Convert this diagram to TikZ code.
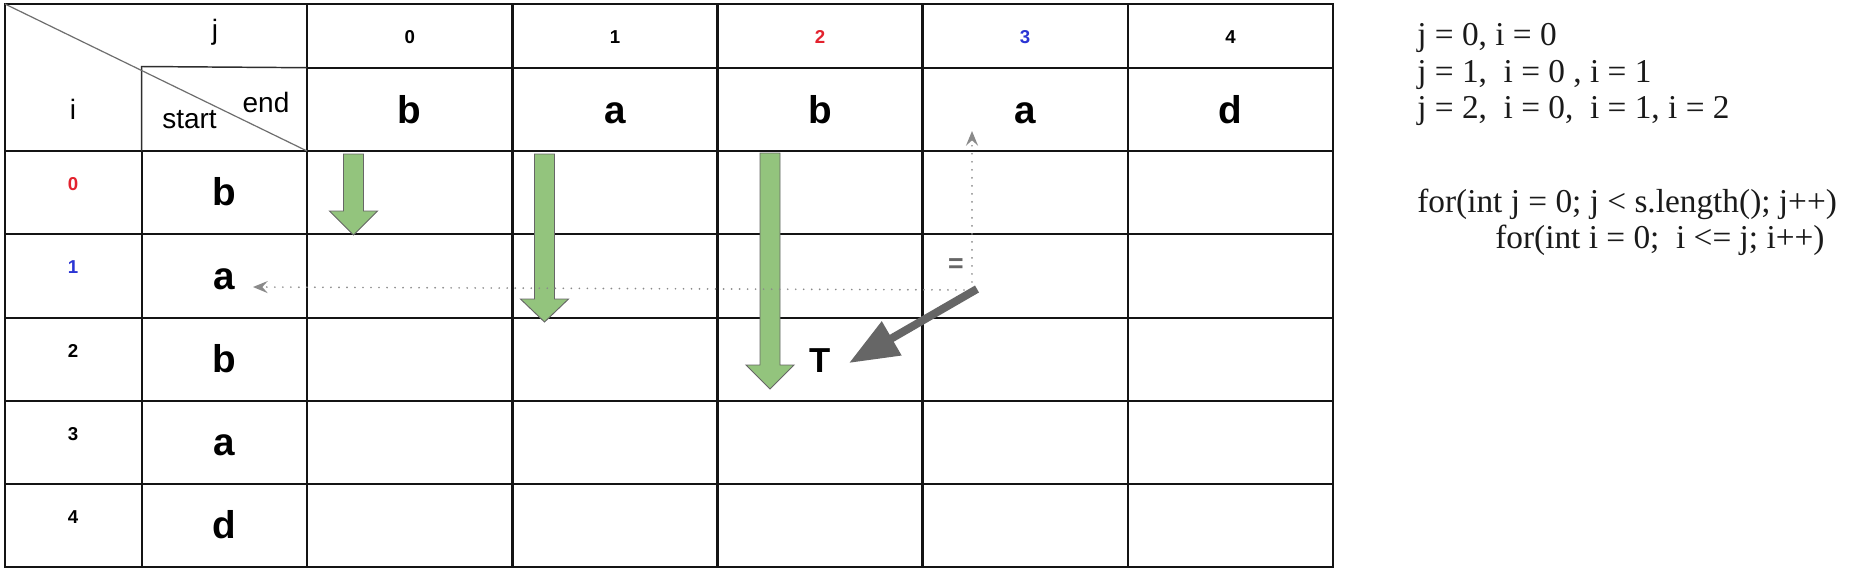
\documentclass[tikz,border=0pt]{standalone}
\usepackage{fontspec}
\newfontfamily\arial{Liberation Sans}
\newfontfamily\serifcode{Liberation Serif}
\usetikzlibrary{arrows.meta}
\definecolor{gridc}{HTML}{141414}
\definecolor{thinc}{HTML}{2E2E2E}
\definecolor{diagc}{HTML}{6E6E6E}
\definecolor{greenf}{HTML}{93C47D}
\definecolor{arrowgray}{HTML}{666666}
\definecolor{dotc}{HTML}{8A8A8A}
\definecolor{idxred}{HTML}{E3222E}
\definecolor{idxblue}{HTML}{2B35D4}
\definecolor{codec}{HTML}{1A1A1A}
\newcommand\garrow[4]{\draw[greenarrow] (#1-10,#2) -- (#1+10,#2) -- (#1+10,#3) -- (#1+24,#3) -- (#1,#4) -- (#1-24,#3) -- (#1-10,#3) -- cycle;}
\begin{document}
\begin{tikzpicture}[x=0.75pt,y=-0.75pt,
  grid/.style={draw=gridc, line width=1.6pt},
  thin/.style={draw=thinc, line width=1.1pt},
  letter/.style={font=\arial\bfseries\fontsize{29}{30}\selectfont, inner sep=0, anchor=base},
  idx/.style={font=\arial\bfseries\fontsize{14}{15}\selectfont, inner sep=0, anchor=base},
  hdr/.style={font=\arial\fontsize{21}{22}\selectfont, inner sep=0, anchor=base},
  code/.style={font=\serifcode\fontsize{25}{27}\selectfont, text=codec, inner sep=0, anchor=base west},
  greenarrow/.style={fill=greenf, draw=arrowgray, line width=0.7pt},
  dotline/.style={draw=dotc, line width=1.4pt, dash pattern=on 0.01pt off 6pt, line cap=round},
  dottip/.style={-{Stealth[length=11pt, width=9pt, inset=4pt, fill=dotc]}}
]
\useasboundingbox (0,0) rectangle (1866,572);
\fill[white] (0,0) rectangle (1866,572);

% grid
\draw[grid] (5,4) rectangle (1333,567);
\foreach \y in {151,234.3,317.6,401,484.3} \draw[grid] (5,\y) -- (1333,\y);
\draw[grid] (307,67.7) -- (1333,67.7);
\foreach \x in {307,512.5,717.5,922.5,1127.7} \draw[grid] (\x,4) -- (\x,567);
\draw[grid] (141.7,151) -- (141.7,567);
\draw[thin] (141.7,151) -- (141.7,66.5) -- (307,67.7);
\draw[draw=diagc, line width=0.9pt] (5,4) -- (307,151);

% header labels
\node[hdr] (cj) at (215,39) {j};
\node[hdr] (ci) at (73,119) {i};
\node[hdr] (cstart) at (189.5,128) {start};
\node[hdr] (cend) at (266,112) {end};

% column indices
\node[idx] (c0) at (409.8,43) {0};
\node[idx] (c1) at (615,43) {1};
\node[idx, text=idxred] (c2) at (820,43) {2};
\node[idx, text=idxblue] (c3) at (1025,43) {3};
\node[idx] (c4) at (1230.5,43) {4};

% header letters
\node[letter] (l0) at (409.8,123) {b};
\node[letter] (l1) at (615,123) {a};
\node[letter] (l2) at (820,123) {b};
\node[letter] (l3) at (1025,123) {a};
\node[letter] (l4) at (1230.5,123) {d};

% row indices
\node[idx, text=idxred] (r0) at (73,190.5) {0};
\node[idx, text=idxblue] (r1) at (73,273.8) {1};
\node[idx] (r2) at (73,357) {2};
\node[idx] (r3) at (73,440.3) {3};
\node[idx] (r4) at (73,523.3) {4};

% start letters
\node[letter] (s0) at (224.4,205.7) {b};
\node[letter] (s1) at (224.4,289) {a};
\node[letter] (s2) at (224.4,372.3) {b};
\node[letter] (s3) at (224.4,455.7) {a};
\node[letter] (s4) at (224.4,538.8) {d};

% green block arrows
\garrow{353.5}{154}{211}{235}
\garrow{544.5}{154}{299}{322}
\garrow{770}{153}{365}{389}

% T and equals
\node[letter, font=\arial\bfseries\fontsize{26}{27}\selectfont] (nT) at (820,372) {T};
\node[inner sep=0, text=arrowgray, font=\arial\bfseries\fontsize{20}{21}\selectfont] (neq) at (956,266) {=};

% dotted connectors
\coordinate (corner) at (972,290);
\coordinate (leftTip) at (253,287);
\coordinate (upTip) at (972,131);
\draw[dotline, dottip] (corner) -- (leftTip);
\draw[dotline, dottip] (corner) -- (upTip);

% gray arrow
\coordinate (gStart) at (977,289);
\coordinate (gTip) at (849,363);
\draw[draw=arrowgray, line width=6pt, -{Triangle[length=37pt, width=28pt, fill=arrowgray]}] (gStart) -- (gTip);

% right text
\node[code] (t1) at (1417,45) {j = 0, i = 0};
\node[code] (t2) at (1417,82) {j = 1,\ \ i = 0 , i = 1};
\node[code] (t3) at (1417,118) {j = 2,\ \ i = 0,\ \ i = 1, i = 2};
\node[code] (t4) at (1417,212) {for(int j = 0; j < s.length(); j++)};
\node[code] (t5) at (1495,248) {for(int i = 0;\ \ i <= j; i++)};
\end{tikzpicture}
\end{document}
